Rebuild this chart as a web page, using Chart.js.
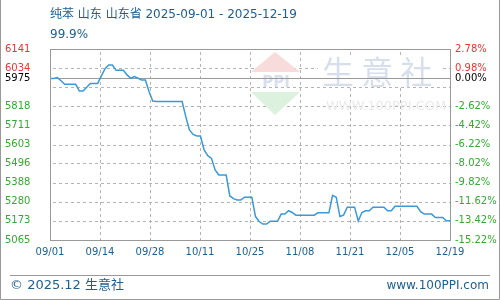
<!DOCTYPE html>
<html>
<head>
<meta charset="utf-8">
<script src="https://cdn.jsdelivr.net/npm/chart.js@4"></script>
<style>
  html, body { margin: 0; padding: 0; background: #fff; }
  #wrap { width: 500px; height: 300px; position: relative; }
</style>
</head>
<body>
<div id="wrap"><canvas id="priceChart" width="500" height="300"></canvas></div>
<script>
const titleText = '纯苯 山东 山东省 2025-09-01 - 2025-12-19';
const subTitleText = '99.9%';
const footerLeft = '© 2025.12 生意社';
const footerRight = 'www.100PPI.com';

const dateLabels = ['09/01', '09/14', '09/28', '10/11', '10/25', '11/08', '11/21', '12/05', '12/19'];

// daily price, 09/01 .. 12/19
const prices = [
  5975, 5975, 5980, 5962, 5942, 5942, 5942, 5942, 5904, 5904,
  5925, 5947, 5947, 5947, 5990, 6030, 6051, 6051, 6021, 6021,
  6021, 5995, 5976, 5986, 5976, 5966, 5966, 5900, 5848, 5845,
  5845, 5845, 5845, 5845, 5845, 5845, 5845, 5760, 5685, 5660,
  5651, 5651, 5572, 5540, 5525, 5460, 5431, 5431, 5431, 5313,
  5298, 5291, 5291, 5306, 5306, 5306, 5197, 5169, 5155, 5155,
  5170, 5170, 5170, 5211, 5211, 5230, 5220, 5205, 5205, 5205,
  5205, 5205, 5205, 5218, 5218, 5218, 5218, 5316, 5306, 5197,
  5205, 5250, 5250, 5250, 5172, 5220, 5230, 5230, 5250, 5250,
  5250, 5250, 5230, 5230, 5255, 5255, 5255, 5255, 5255, 5255,
  5255, 5225, 5211, 5211, 5211, 5192, 5192, 5192, 5173, 5173
];

const baseValue = 5975;
const tickValues = [5065, 5173, 5280, 5388, 5496, 5603, 5711, 5818, 5926, 5975, 6034, 6141];
const leftLabels = ['5065', '5173', '5280', '5388', '5496', '5603', '5711', '5818', '', '5975', '6034', '6141'];
const rightLabels = ['-15.22%', '-13.42%', '-11.62%', '-9.82%', '-8.02%', '-6.22%', '-4.42%', '-2.62%', '', '0.00%', '0.98%', '2.78%'];

const textBlue = '#1d5f8e';
const upRed = '#ee3333';
const downGreen = '#33aa33';
const gridGray = '#b4b4b4';

function tickColor(ctx) {
  const v = ctx.tick ? ctx.tick.value : 0;
  if (v > baseValue) return upRed;
  if (v === baseValue) return '#000000';
  return downGreen;
}

const decorPlugin = {
  id: 'decor',
  beforeDraw(chart) {
    const c = chart.ctx;
    c.save();
    c.fillStyle = '#ffffff';
    c.fillRect(0, 0, chart.width, chart.height);
    c.restore();
  },
  beforeDatasetsDraw(chart) {
    const c = chart.ctx;
    const x = chart.scales.x;
    const y = chart.scales.y;
    const area = chart.chartArea;
    const left = Math.round(area.left), right = Math.round(area.right);
    const top = Math.round(area.top), bottom = Math.round(area.bottom);
    c.save();
    c.fillStyle = gridGray;
    for (let i = 0; i < x.ticks.length; i++) {
      const px = Math.round(x.getPixelForValue(x.ticks[i].value));
      for (let py = top + 3; py < bottom; py += 6) c.fillRect(px, py, 1, Math.min(3, bottom - py));
    }
    for (let i = 0; i < y.ticks.length; i++) {
      const v = y.ticks[i].value;
      if (v === baseValue) continue;
      const py = Math.round(y.getPixelForValue(v));
      for (let px = left + 3; px < right; px += 6) c.fillRect(px, py, Math.min(3, right - px), 1);
    }
    // watermark logo
    c.fillStyle = '#f8dcdc';
    c.beginPath();
    c.moveTo(275, 52); c.lineTo(300, 72); c.lineTo(251, 72); c.closePath();
    c.fill();
    c.fillStyle = '#dcf1de';
    c.beginPath();
    c.moveTo(251, 92); c.lineTo(300, 92); c.lineTo(275, 115); c.closePath();
    c.fill();
    c.fillStyle = '#d9dfec';
    c.font = 'bold 15px "DejaVu Sans"';
    c.textAlign = 'center';
    c.textBaseline = 'middle';
    c.fillText('PPI', 276, 83);
    // watermark text
    c.fillStyle = '#ffffff';
    c.fillRect(318, 55, 125, 32);
    c.fillStyle = '#d8dfec';
    c.font = '32px "Noto Sans CJK SC"';
    c.textAlign = 'left';
    c.fillText('生 意 社', 322, 72);
    c.fillStyle = '#eaeaea';
    c.font = '13px "DejaVu Sans"';
    c.fillText('WWW.100PPI.COM', 326, 107);
    // base line
    c.fillStyle = '#999999';
    c.fillRect(left, Math.round(y.getPixelForValue(baseValue)), right - left, 1);
    c.restore();
  },
  afterDraw(chart) {
    const c = chart.ctx;
    const area = chart.chartArea;
    c.save();
    c.strokeStyle = '#999999';
    c.lineWidth = 1;
    c.strokeRect(Math.round(area.left) + 0.5, Math.round(area.top) + 0.5,
      Math.round(area.right - area.left), Math.round(area.bottom - area.top));
    // title
    c.fillStyle = textBlue;
    c.textBaseline = 'middle';
    c.textAlign = 'left';
    c.font = '12px "DejaVu Sans", "Noto Sans CJK SC"';
    c.fillText(titleText, 50, 15);
    c.fillText(subTitleText, 50, 35);
    // footer
    c.beginPath();
    c.moveTo(10, 275.5);
    c.lineTo(490, 275.5);
    c.stroke();
    c.font = '13px "DejaVu Sans", "Noto Sans CJK SC"';
    c.fillText(footerLeft, 10, 286);
    c.textAlign = 'right';
    c.font = '12px "DejaVu Sans", "Noto Sans CJK SC"';
    c.fillText(footerRight, 489, 286);
    // outer border
    c.beginPath();
    c.moveTo(0.5, 0);
    c.lineTo(0.5, 299.5);
    c.lineTo(499.5, 299.5);
    c.lineTo(499.5, 0);
    c.stroke();
    c.restore();
  }
};

Chart.defaults.font.family = '"DejaVu Sans"';
Chart.defaults.font.size = 10;

const ctx = document.getElementById('priceChart').getContext('2d');
const priceChart = new Chart(ctx, {
  type: 'line',
  data: {
    datasets: [{
      data: prices.map((v, i) => ({ x: i, y: v })),
      borderColor: '#3a9ad9',
      borderWidth: 1.5,
      pointRadius: 0,
      tension: 0,
      fill: false
    }]
  },
  options: {
    responsive: false,
    animation: false,
    devicePixelRatio: 1,
    layout: { padding: { left: 5, right: 0, top: 49, bottom: 40 } },
    plugins: {
      legend: { display: false },
      tooltip: { enabled: false }
    },
    scales: {
      x: {
        type: 'linear',
        min: 0,
        max: prices.length - 1,
        afterBuildTicks: scale => {
          const step = (prices.length - 1) / (dateLabels.length - 1);
          scale.ticks = dateLabels.map((l, i) => ({ value: i * step }));
        },
        afterFit: scale => { scale.height = 20; },
        grid: { display: false, drawTicks: false },
        border: { display: false },
        ticks: {
          color: textBlue,
          padding: 6,
          maxRotation: 0,
          autoSkip: false,
          callback: (v, i) => dateLabels[i]
        }
      },
      y: {
        position: 'left',
        min: 5065,
        max: 6141,
        afterBuildTicks: scale => { scale.ticks = tickValues.map(v => ({ value: v })); },
        afterFit: scale => { scale.width = 45; },
        grid: { display: false, drawTicks: false },
        border: { display: false },
        ticks: {
          crossAlign: 'far',
          color: tickColor,
          autoSkip: false,
          callback: (v, i) => leftLabels[i]
        }
      },
      y2: {
        position: 'right',
        min: 5065,
        max: 6141,
        afterBuildTicks: scale => { scale.ticks = tickValues.map(v => ({ value: v })); },
        afterFit: scale => { scale.width = 50; },
        grid: { display: false, drawTicks: false },
        border: { display: false },
        ticks: {
          padding: 5,
          color: tickColor,
          autoSkip: false,
          callback: (v, i) => rightLabels[i]
        }
      }
    }
  },
  plugins: [decorPlugin]
});
</script>
</body>
</html>
